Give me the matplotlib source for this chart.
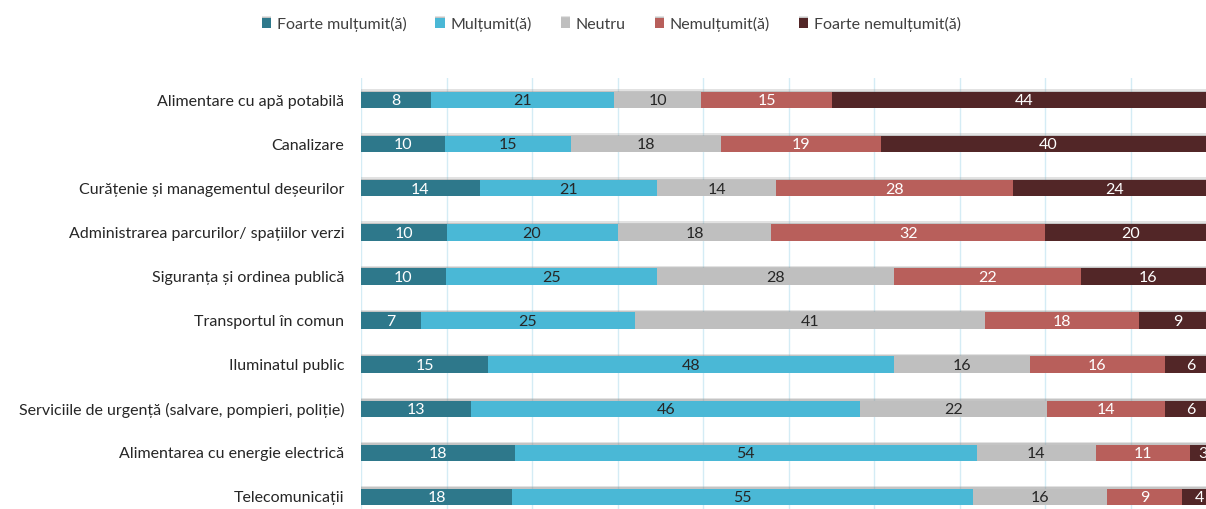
import numpy as np
import matplotlib.pyplot as plt
import matplotlib.patheffects as pe

plt.rcParams['font.family'] = ['Lato', 'DejaVu Sans']

services = [
    'Alimentare cu apă potabilă',
    'Canalizare',
    'Curățenie și managementul deșeurilor',
    'Administrarea parcurilor/ spațiilor verzi',
    'Siguranța și ordinea publică',
    'Transportul în comun',
    'Iluminatul public',
    'Serviciile de urgență (salvare, pompieri, poliție)',
    'Alimentarea cu energie electrică',
    'Telecomunicații',
]

categories = ['Foarte mulțumit(ă)', 'Mulțumit(ă)', 'Neutru', 'Nemulțumit(ă)', 'Foarte nemulțumit(ă)']

foarte_multumit = [8, 10, 14, 10, 10, 7, 15, 13, 18, 18]
multumit = [21, 15, 21, 20, 25, 25, 48, 46, 54, 55]
neutru = [10, 18, 14, 18, 28, 41, 16, 22, 14, 16]
nemultumit = [15, 19, 28, 32, 22, 18, 16, 14, 11, 9]
foarte_nemultumit = [44, 40, 24, 20, 16, 9, 6, 6, 3, 4]

colors = ['#2E788B', '#4AB8D6', '#BFBFBF', '#B85F5B', '#522627']
text_colors = ['white', '#262626', '#262626', 'white', 'white']

series = np.array([foarte_multumit, multumit, neutru, nemultumit, foarte_nemultumit], dtype=float)
shares = series / series.sum(axis=0)

fig = plt.figure(figsize=(12.06, 5.09), dpi=100)
ax = fig.add_axes([361 / 1206, -10 / 509, 855 / 1206, 441 / 509])

y = np.arange(len(services))
left = np.zeros(len(services))
# soft shadow above each bar
shadow = [pe.SimplePatchShadow(offset=(0, 2.0), shadow_rgbFace='#a0a0a0', alpha=0.3),
          pe.SimplePatchShadow(offset=(0, 1.0), shadow_rgbFace='#808080', alpha=0.3),
          pe.Normal()]
for i, cat in enumerate(categories):
    bars = ax.barh(y, shares[i], left=left, height=0.37, color=colors[i], label=cat,
                   zorder=3, path_effects=shadow)
    for j, b in enumerate(bars):
        ax.text(left[j] + shares[i][j] / 2, y[j] + 0.03, f'{int(series[i][j])}',
                ha='center', va='center', fontsize=11.5, color=text_colors[i], zorder=4)
    left += shares[i]

ax.set_xlim(0, 1)
ax.set_ylim(len(services) - 0.5, -0.5)
ax.set_xticks(np.arange(0, 1.01, 0.1))
ax.set_xticklabels([])
ax.set_yticks(y)
ax.set_yticklabels(services, fontsize=11.5, color='#262626')
ax.tick_params(axis='both', length=0)
ax.tick_params(axis='y', pad=12)
ax.grid(axis='x', color='#D4ECF5', linewidth=1, zorder=0)
for s in ax.spines.values():
    s.set_visible(False)

fig.legend(loc='upper center', bbox_to_anchor=(0.507, 0.995), ncol=5, frameon=False,
           fontsize=11.5, handlelength=0.6, handleheight=0.6, handletextpad=0.35,
           columnspacing=1.8, labelcolor='#404040')

fig.savefig('out.png', dpi=100)
